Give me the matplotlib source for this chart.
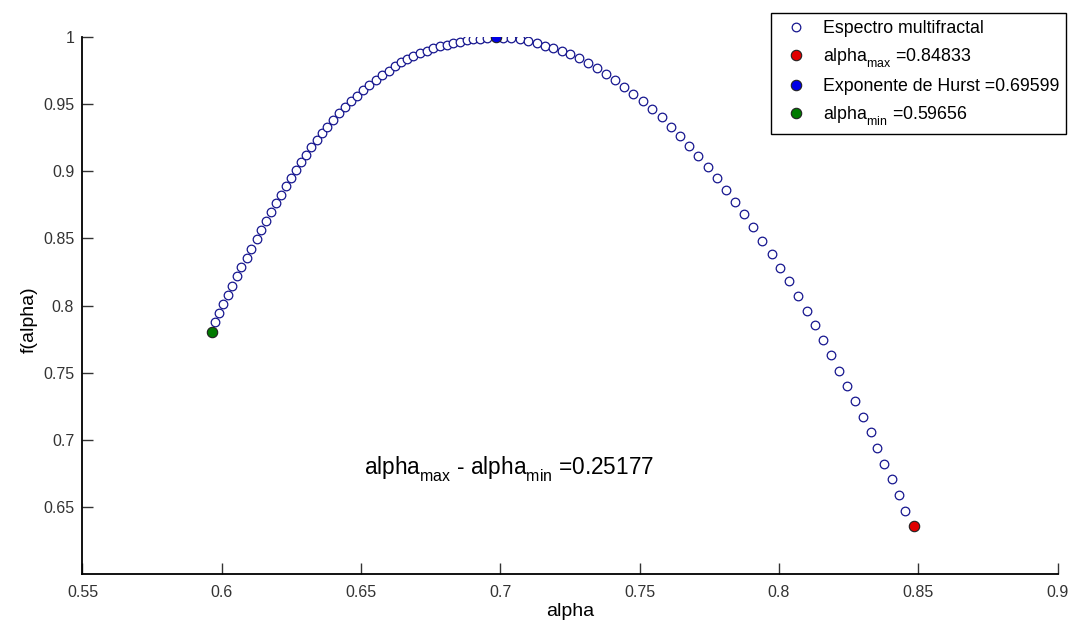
import matplotlib
matplotlib.use("Agg")
import matplotlib.pyplot as plt
import matplotlib._mathtext as mt

plt.rcParams['font.family'] = ['Liberation Sans', 'DejaVu Sans']
plt.rcParams['mathtext.fontset'] = 'custom'
plt.rcParams['mathtext.rm'] = 'Liberation Sans'
plt.rcParams['mathtext.it'] = 'Liberation Sans'
# subindices un poco mas bajos, como en la figura original
mt.FontConstantsBase.subdrop = 0.9
mt.FontConstantsBase.sub1 = 0.6

# espectro multifractal
alpha = [0.59648, 0.59756, 0.59917, 0.60061, 0.60212, 0.60366, 0.60535, 0.60707,
         0.60887, 0.61066, 0.61246, 0.61418, 0.61594, 0.61766, 0.61945, 0.62125,
         0.62304, 0.62473, 0.62653, 0.62832, 0.63022, 0.63202, 0.63406, 0.63597,
         0.63787, 0.64002, 0.64218, 0.64433, 0.64648, 0.64864, 0.65079, 0.65294,
         0.65535, 0.65761, 0.65991, 0.66217, 0.66432, 0.66648, 0.66874, 0.67114,
         0.67355, 0.67591, 0.67832, 0.68073, 0.68310, 0.68550, 0.68790, 0.69027,
         0.69268, 0.69508, 0.69842,
         0.70111, 0.70398, 0.70686, 0.70991, 0.71303, 0.71601, 0.71899, 0.72200,
         0.72498, 0.72821, 0.73155, 0.73457, 0.73790, 0.74113, 0.74437, 0.74770,
         0.75108, 0.75442, 0.75790, 0.76113, 0.76447, 0.76781, 0.77104, 0.77441,
         0.77764, 0.78098, 0.78421, 0.78755, 0.79056, 0.79401, 0.79738, 0.80036,
         0.80370, 0.80671, 0.80994, 0.81303, 0.81579, 0.81866, 0.82154, 0.82452,
         0.82739, 0.83004, 0.83291, 0.83528, 0.83779, 0.84045, 0.84297, 0.84533,
         0.84833]
f_alpha = [0.78004, 0.78749, 0.79419, 0.80112, 0.80782, 0.81475, 0.82197, 0.82890,
           0.83560, 0.84231, 0.84931, 0.85624, 0.86294, 0.86942, 0.87613, 0.88253,
           0.88879, 0.89497, 0.90093, 0.90667, 0.91233, 0.91784, 0.92328, 0.92827,
           0.93318, 0.93818, 0.94317, 0.94763, 0.95210, 0.95627, 0.96052, 0.96425,
           0.96797, 0.97147, 0.97490, 0.97818, 0.98101, 0.98361, 0.98585, 0.98786,
           0.98972, 0.99143, 0.99300, 0.99434, 0.99553, 0.99657, 0.99747, 0.99821,
           0.99881, 0.99926, 1.00000,
           0.99940, 0.99903, 0.99836, 0.99717, 0.99538, 0.99352, 0.99166, 0.98957,
           0.98711, 0.98413, 0.98086, 0.97713, 0.97244, 0.96797, 0.96253, 0.95732,
           0.95210, 0.94615, 0.94019, 0.93318, 0.92626, 0.91903, 0.91136, 0.90339,
           0.89475, 0.88603, 0.87732, 0.86816, 0.85825, 0.84827, 0.83836, 0.82816,
           0.81825, 0.80730, 0.79590, 0.78525, 0.77408, 0.76291, 0.75143, 0.74004,
           0.72864, 0.71695, 0.70555, 0.69385, 0.68216, 0.67054, 0.65862, 0.64715,
           0.63575]

# puntos destacados
alpha_max = [0.84833, 0.63575]
hurst = [0.69842, 1.0]
alpha_min = [0.59648, 0.78004]
ancho = 0.25177

xticks = [0.55, 0.6, 0.65, 0.7, 0.75, 0.8, 0.85, 0.9]
yticks = [0.65, 0.7, 0.75, 0.8, 0.85, 0.9, 0.95, 1.0]

fig = plt.figure(figsize=(10.7, 6.27), dpi=100)
ax = fig.add_axes([0.0771, 0.0845, 0.9113, 0.8565])

ax.plot(alpha, f_alpha, 'o', mfc='white', mec='#16168f', mew=0.9, ms=6.2,
        label='Espectro multifractal')
ax.plot(alpha_max[0], alpha_max[1], 'o', mfc='#e00000', mec='#222222', mew=0.8, ms=7.5,
        label=r'alpha$_{\mathrm{max}}$ =0.84833')
ax.plot(hurst[0], hurst[1], 'o', mfc='#0000e6', mec='#222222', mew=0.8, ms=7.5,
        label='Exponente de Hurst =0.69599')
ax.plot(alpha_min[0], alpha_min[1], 'o', mfc='#007a00', mec='#222222', mew=0.8, ms=7.5,
        label=r'alpha$_{\mathrm{min}}$ =0.59656')

ax.text(0.6510, 0.6785, r'alpha$_{\mathrm{max}}$ - alpha$_{\mathrm{min}}$ =%.5f' % ancho,
        fontsize=16.3, ha='left', va='center')

ax.set_xlim(0.55, 0.9)
ax.set_ylim(0.6, 1.0)
ax.set_xticks(xticks)
ax.set_xticklabels(['%g' % t for t in xticks])
ax.set_yticks(yticks)
ax.set_yticklabels(['%g' % t for t in yticks])
ax.tick_params(direction='in', length=8, width=1, labelsize=11.5, colors='#333333',
               pad=6)
ax.tick_params(axis='x', pad=8)
for s in ['top', 'right']:
    ax.spines[s].set_visible(False)
for s in ['left', 'bottom']:
    ax.spines[s].set_linewidth(1.3)

ax.set_xlabel('alpha', fontsize=14, labelpad=2)
ax.set_ylabel('f(alpha)', fontsize=14)
ax.yaxis.set_label_coords(-0.046, 0.473)

leg = ax.legend(loc='upper right', bbox_to_anchor=(1066 / 1070, 1 - 13 / 627),
                bbox_transform=fig.transFigure, borderaxespad=0, fontsize=12.8,
                fancybox=False, framealpha=1, edgecolor='black', handletextpad=0.5,
                labelspacing=0.5, borderpad=0.4, handlelength=2.0, markerscale=1.0)
leg.get_frame().set_linewidth(1.0)

fig.savefig('out.png', dpi=100)
